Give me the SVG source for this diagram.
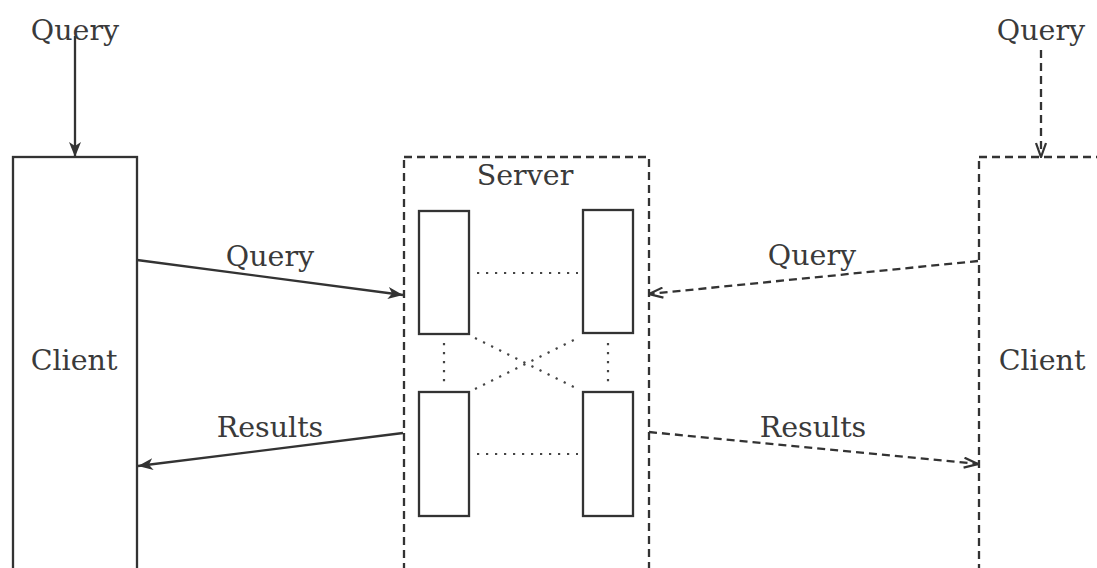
<svg xmlns="http://www.w3.org/2000/svg" width="1097" height="568" viewBox="0 0 1097 568">
  <style>
    .label { font-family: "DejaVu Serif", "Liberation Serif", serif; font-size: 28.5px; fill: #3a3a3a; text-anchor: middle; }
    .solid { fill: none; stroke: #333; stroke-width: 2.3; }
    .dashed { fill: none; stroke: #333; stroke-width: 2.3; stroke-dasharray: 8 5; }
    .dotted { fill: none; stroke: #444; stroke-width: 2.2; stroke-dasharray: 2.2 6.8; }
  </style>
  <defs>
    <marker id="head-solid" viewBox="0 0 16 12" refX="15" refY="6" markerWidth="16" markerHeight="12" markerUnits="userSpaceOnUse" orient="auto">
      <path d="M0,0 L15,6 L0,12 L4,6 Z" fill="#333"/>
    </marker>
    <marker id="head-open" viewBox="0 0 16 12" refX="15" refY="6" markerWidth="16" markerHeight="12" markerUnits="userSpaceOnUse" orient="auto">
      <path d="M1,1 L15,6 L1,11" fill="none" stroke="#333" stroke-width="2.2"/>
    </marker>
  </defs>
  <rect width="1097" height="568" fill="#fff"/>

  <!-- left client -->
  <g id="client-left">
    <rect class="solid" x="13" y="157" width="124" height="430"/>
    <text class="label" x="74" y="370">Client</text>
  </g>

  <!-- server with its four processes -->
  <g id="server">
    <rect class="dashed" x="404" y="157" width="245" height="430"/>
    <text class="label" x="525" y="185">Server</text>
    <g id="proc-tl"><rect class="solid" x="419" y="211" width="50" height="123"/></g>
    <g id="proc-tr"><rect class="solid" x="583" y="210" width="50" height="123"/></g>
    <g id="proc-bl"><rect class="solid" x="419" y="392" width="50" height="124"/></g>
    <g id="proc-br"><rect class="solid" x="583" y="392" width="50" height="124"/></g>
  </g>

  <!-- right client -->
  <g id="client-right">
    <rect class="dashed" x="979" y="157" width="200" height="430"/>
    <text class="label" x="1042" y="370">Client</text>
  </g>

  <!-- process links inside the server -->
  <g id="links">
    <line class="dotted" x1="477" y1="273" x2="578" y2="273"/>
    <line class="dotted" x1="477" y1="454" x2="578" y2="454"/>
    <line class="dotted" x1="444" y1="343" x2="444" y2="385"/>
    <line class="dotted" x1="608" y1="343" x2="608" y2="385"/>
    <line class="dotted" x1="475" y1="338" x2="578" y2="389"/>
    <line class="dotted" x1="475" y1="389" x2="578" y2="338"/>
  </g>

  <!-- message connectors -->
  <g id="connectors">
    <line class="solid" x1="75" y1="36" x2="75" y2="157" marker-end="url(#head-solid)"/>
    <line class="dashed" x1="1041" y1="50" x2="1041" y2="157" marker-end="url(#head-open)"/>
    <line class="solid" x1="137" y1="260" x2="403" y2="295" marker-end="url(#head-solid)"/>
    <line class="solid" x1="403" y1="433" x2="138" y2="466" marker-end="url(#head-solid)"/>
    <line class="dashed" x1="978" y1="261" x2="649" y2="294" marker-end="url(#head-open)"/>
    <line class="dashed" x1="649" y1="432" x2="978" y2="464" marker-end="url(#head-open)"/>
  </g>

  <!-- connector labels -->
  <g id="labels">
    <text class="label" x="75" y="40">Query</text>
    <text class="label" x="1041" y="40">Query</text>
    <text class="label" x="270" y="266">Query</text>
    <text class="label" x="270" y="437">Results</text>
    <text class="label" x="812" y="265">Query</text>
    <text class="label" x="813" y="437">Results</text>
  </g>
</svg>
